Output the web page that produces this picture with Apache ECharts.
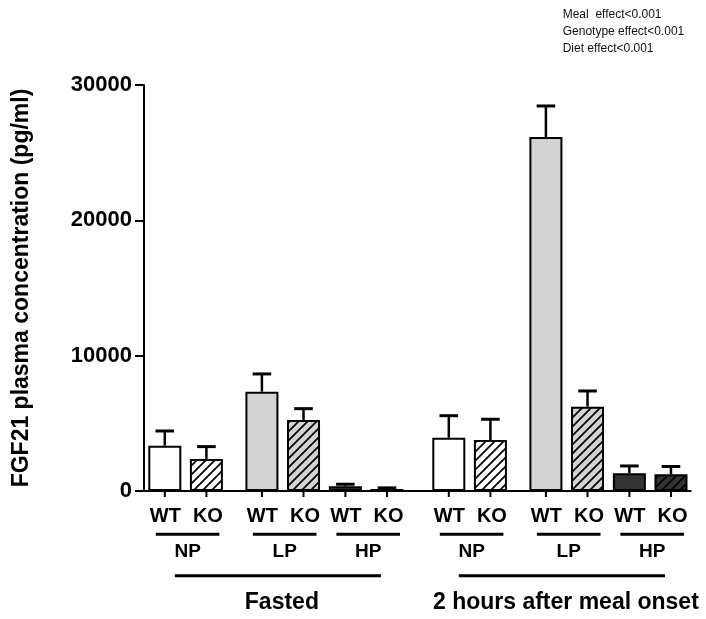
<!DOCTYPE html>
<html><head><meta charset="utf-8">
<script src="https://cdn.jsdelivr.net/npm/echarts@6/dist/echarts.min.js"></script>
<style>html,body{margin:0;padding:0;background:#fff}#c{width:706px;height:619px}</style>
</head><body><div id="c"></div>
<script>
// ---------------- data ----------------
const conditions = ['Fasted', '2 hours after meal onset'];
const diets = ['NP', 'LP', 'HP'];
const genotypes = ['WT', 'KO'];
// FGF21 (pg/ml); order: NP WT, NP KO, LP WT, LP KO, HP WT, HP KO
const fastedMean = [3350, 2370, 7340, 5250, 350, 150];
const fastedSEM  = [1085, 910, 1310, 835, 150, 80];
const mealMean   = [3940, 3770, 26160, 6230, 1320, 1230];
const mealSEM    = [1625, 1530, 2290, 1160, 530, 580];
const yMin = 0, yMax = 30000, yStep = 10000;
const yTitle = 'FGF21 plasma concentration (pg/ml)';
const statsNotes = ['Meal  effect<0.001', 'Genotype effect<0.001', 'Diet effect<0.001'];

// ---------------- layout / style ----------------
const conditionStart = [0, 6.826];
const dietStart = [0, 2.334, 4.34];
const dietFill = { NP: '#ffffff', LP: '#d3d3d3', HP: '#333333' };
const FONT = '"Liberation Sans", Arial, Helvetica, sans-serif';

function hatch(bg) {
  const s = 9, cv = document.createElement('canvas');
  cv.width = s; cv.height = s;
  const ctx = cv.getContext('2d');
  ctx.fillStyle = bg; ctx.fillRect(0, 0, s, s);
  ctx.strokeStyle = '#000'; ctx.lineWidth = 1.7; ctx.beginPath();
  ctx.moveTo(-1, s + 1); ctx.lineTo(s + 1, -1);
  ctx.moveTo(-2, 2); ctx.lineTo(2, -2);
  ctx.moveTo(s - 2, s + 2); ctx.lineTo(s + 2, s - 2);
  ctx.stroke();
  return { image: cv, repeat: 'repeat' };
}

const means = [fastedMean, mealMean], sems = [fastedSEM, mealSEM];
const bars = [];      // {x, mean, sem, geno, diet}
const dietGroups = []; // {xWT, xKO, label}
const condGroups = []; // {xFirst, xLast, label}
conditions.forEach((cond, c) => {
  diets.forEach((d, di) => {
    genotypes.forEach((g, gi) => {
      const i = di * 2 + gi;
      bars.push({ x: conditionStart[c] + dietStart[di] + gi, mean: means[c][i], sem: sems[c][i], geno: g, diet: d });
    });
    dietGroups.push({ xWT: conditionStart[c] + dietStart[di], xKO: conditionStart[c] + dietStart[di] + 1, label: d });
  });
  condGroups.push({ xFirst: conditionStart[c], xLast: conditionStart[c] + dietStart[2] + 1, label: cond });
});

const chart = echarts.init(document.getElementById('c'), null, { renderer: 'canvas' });
chart.setOption({
  animation: false,
  backgroundColor: '#ffffff',
  grid: { left: 144, top: 85, right: 15.3, bottom: 128, containLabel: false, outerBoundsMode: 'none' },
  xAxis: {
    type: 'value', min: -0.5, max: 12.64,
    axisLine: { show: true, onZero: false, lineStyle: { color: '#000', width: 2 } },
    axisTick: { show: false }, axisLabel: { show: false }, splitLine: { show: false }
  },
  yAxis: {
    type: 'value', min: yMin, max: yMax, interval: yStep,
    name: yTitle, nameLocation: 'middle', nameRotate: 90, nameGap: 111,
    nameTextStyle: { fontFamily: FONT, fontWeight: 'bold', fontSize: 23, color: '#000' },
    axisLine: { show: true, onZero: false, lineStyle: { color: '#000', width: 2 } },
    axisTick: { show: true, length: 9, lineStyle: { color: '#000', width: 2 } },
    axisLabel: { fontFamily: FONT, fontWeight: 'bold', fontSize: 22, color: '#000', margin: 12, formatter: v => String(v) },
    splitLine: { show: false }
  },
  graphic: statsNotes.map((t, i) => ({
    type: 'text', left: 562.7, top: 9 + i * 17,
    style: { text: t, font: '12px ' + FONT, fill: '#111' }
  })),
  series: [
    {
      type: 'bar', barWidth: 33, z: 2,
      data: bars.map(b => ({
        value: [b.x, b.mean],
        itemStyle: {
          color: b.geno === 'KO' ? hatch(dietFill[b.diet]) : dietFill[b.diet],
          borderColor: '#000', borderWidth: 2
        }
      }))
    },
    {
      type: 'custom', z: 3, clip: false,
      data: bars.map(b => [b.x, b.mean, b.sem]),
      renderItem: (params, api) => {
        const b = bars[params.dataIndex];
        const top = api.coord([b.x, b.mean]);
        const cap = api.coord([b.x, b.mean + b.sem]);
        const base = api.coord([b.x, 0]);
        return {
          type: 'group', children: [
            { type: 'line', shape: { x1: top[0], y1: top[1], x2: cap[0], y2: cap[1] }, style: { stroke: '#000', lineWidth: 2.5 } },
            { type: 'line', shape: { x1: cap[0] - 9.3, y1: cap[1], x2: cap[0] + 9.3, y2: cap[1] }, style: { stroke: '#000', lineWidth: 3 } },
            { type: 'line', shape: { x1: base[0], y1: base[1], x2: base[0], y2: base[1] + 6 }, style: { stroke: '#000', lineWidth: 2 } },
            { type: 'text', style: { text: b.geno, x: base[0] + (b.geno === 'KO' ? 1.5 : 0.5), y: base[1] + 25, align: 'center', verticalAlign: 'middle', font: 'bold 20px ' + FONT, fill: '#000' } }
          ]
        };
      }
    },
    {
      type: 'custom', z: 3, clip: false,
      data: dietGroups.map(g => [(g.xWT + g.xKO) / 2, 0]),
      renderItem: (params, api) => {
        const g = dietGroups[params.dataIndex];
        const a = api.coord([g.xWT, 0]), k = api.coord([g.xKO, 0]);
        const x1 = a[0] - 9, x2 = k[0] + 13, y = a[1];
        return {
          type: 'group', children: [
            { type: 'line', shape: { x1: x1, y1: y + 43.3, x2: x2, y2: y + 43.3 }, style: { stroke: '#000', lineWidth: 3 } },
            { type: 'text', style: { text: g.label, x: (x1 + x2) / 2, y: y + 61, align: 'center', verticalAlign: 'middle', font: 'bold 19px ' + FONT, fill: '#000' } }
          ]
        };
      }
    },
    {
      type: 'custom', z: 3, clip: false,
      data: condGroups.map(g => [(g.xFirst + g.xLast) / 2, 0]),
      renderItem: (params, api) => {
        const g = condGroups[params.dataIndex];
        const a = api.coord([g.xFirst, 0]), l = api.coord([g.xLast, 0]);
        const x1 = a[0] + 10, x2 = l[0] - 6, y = a[1];
        return {
          type: 'group', children: [
            { type: 'line', shape: { x1: x1, y1: y + 84.7, x2: x2, y2: y + 84.7 }, style: { stroke: '#000', lineWidth: 3 } },
            { type: 'text', style: { text: g.label, x: (a[0] + l[0]) / 2 + 6, y: y + 111.5, align: 'center', verticalAlign: 'middle', font: 'bold 23px ' + FONT, fill: '#000' } }
          ]
        };
      }
    }
  ]
});
</script></body></html>
